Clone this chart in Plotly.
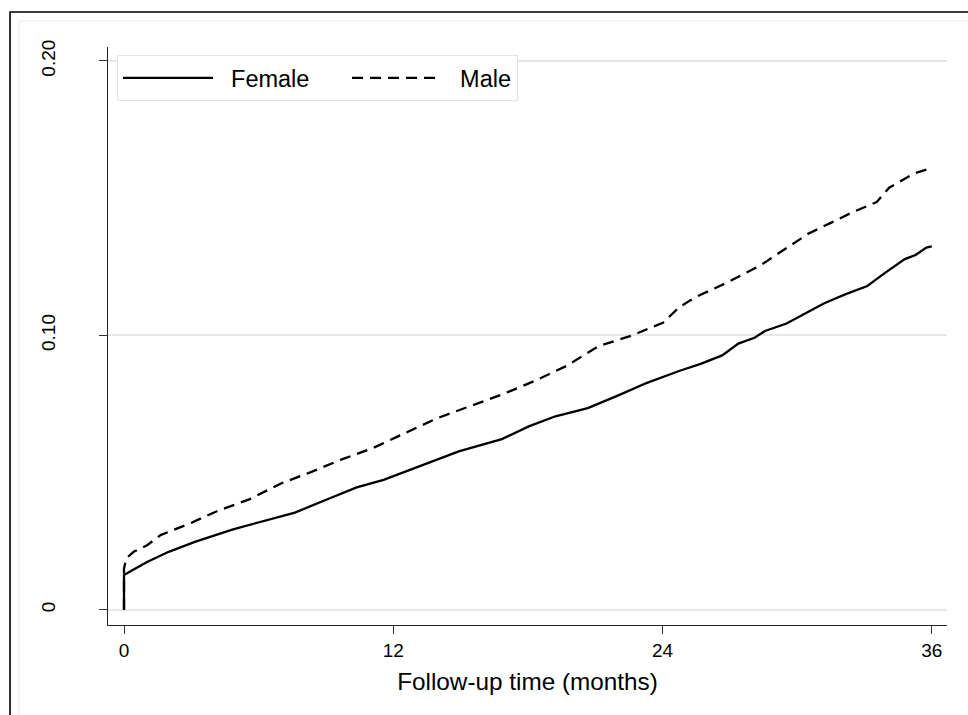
import plotly.graph_objects as go

# Cumulative incidence by sex over follow-up (months)
female_t = [0, 0, 0.31, 1.03, 1.99, 3.19, 4.86, 6.54, 7.62, 8.93, 10.37, 11.57,
            13.49, 14.92, 16.84, 18.04, 19.23, 20.67, 22.11, 23.31, 24.74, 25.70,
            26.66, 27.38, 28.10, 28.57, 29.53, 30.49, 31.21, 32.17, 33.13, 33.84,
            34.80, 35.28, 35.76, 36.0]
female_v = [0, 0.0126, 0.0141, 0.0174, 0.0211, 0.0248, 0.0293, 0.0329, 0.0354,
            0.0398, 0.0446, 0.0473, 0.0534, 0.0577, 0.0622, 0.0668, 0.0705, 0.0735,
            0.0784, 0.0827, 0.0870, 0.0896, 0.0927, 0.0970, 0.0991, 0.1016, 0.1043,
            0.1085, 0.1117, 0.1150, 0.1180, 0.1223, 0.1278, 0.1293, 0.1320, 0.1324]

male_t = [0, 0, 0.10, 0.43, 1.03, 1.63, 2.95, 4.14, 5.58, 7.02, 8.22, 9.65, 11.09,
          12.53, 13.96, 15.40, 16.84, 18.28, 19.71, 21.15, 22.59, 24.02, 24.74,
          25.46, 26.90, 28.34, 29.77, 30.49, 31.5, 32.5, 33.55, 34.1, 34.7, 35.2, 36.0]
male_v = [0, 0.0150, 0.0187, 0.0211, 0.0235, 0.0272, 0.0315, 0.0359, 0.0402,
          0.0461, 0.0498, 0.0546, 0.0589, 0.0644, 0.0698, 0.0741, 0.0784, 0.0833,
          0.0888, 0.0961, 0.0998, 0.1046, 0.1102, 0.1139, 0.1193, 0.1254, 0.1333,
          0.1370, 0.1410, 0.1450, 0.1486, 0.1538, 0.1566, 0.1590, 0.1610]

x_ticks = [0, 12, 24, 36]
y_ticks = [0, 0.10, 0.20]
y_tick_text = ["0", "0.10", "0.20"]

FONT = "Liberation Sans, Arial, sans-serif"
NB = "\u00a0"  # non-breaking space, pads legend labels

fig = go.Figure()
fig.add_trace(go.Scatter(x=female_t, y=female_v, mode="lines",
                         name=NB * 2 + "Female" + NB * 5,
                         line=dict(color="black", width=2.3)))
fig.add_trace(go.Scatter(x=male_t, y=male_v, mode="lines",
                         name=NB * 2 + "Male",
                         line=dict(color="black", width=2.3, dash="11px,7px")))

# Outer graph frame and inner plot-region border
fig.add_shape(type="rect", xref="paper", yref="paper",
              x0=-0.1168, y0=-0.3, x1=1.2, y1=1.0606,
              line=dict(color="black", width=1.6), layer="below")
fig.add_shape(type="rect", xref="paper", yref="paper",
              x0=-0.1061, y0=-0.3, x1=1.2, y1=1.0450,
              line=dict(color="#ececec", width=1), layer="below")

fig.update_layout(
    width=968, height=715,
    margin=dict(l=108, r=21, t=47, b=90),
    paper_bgcolor="white", plot_bgcolor="white",
    font=dict(family=FONT, color="black", size=19),
    showlegend=True,
    legend=dict(orientation="h", x=0.0107, y=0.986, xanchor="left", yanchor="top",
                bordercolor="#e4e4e4", borderwidth=1, bgcolor="white",
                font=dict(size=23.5, family=FONT), itemwidth=90,
                tracegroupgap=0),
    xaxis=dict(range=[-0.713, 36.68], tickvals=x_ticks, showgrid=False,
               zeroline=False, showline=True, linecolor="#222", linewidth=1.3,
               ticks="outside", ticklen=8, tickcolor="#333", tickwidth=1,
               tickfont=dict(size=19),
               title=dict(text="Follow-up time (months)", font=dict(size=24.3),
                          standoff=13)),
    yaxis=dict(range=[-0.00558, 0.2051], tickvals=y_ticks, ticktext=y_tick_text,
               tickangle=-90, showgrid=True, gridcolor="#e6e6e6", gridwidth=2,
               zeroline=False, showline=True, linecolor="#222", linewidth=1.3,
               ticks="outside", ticklen=8, tickcolor="#333", tickwidth=1,
               tickfont=dict(size=19), ticklabelstandoff=36),
)

fig.write_html("out.html")
